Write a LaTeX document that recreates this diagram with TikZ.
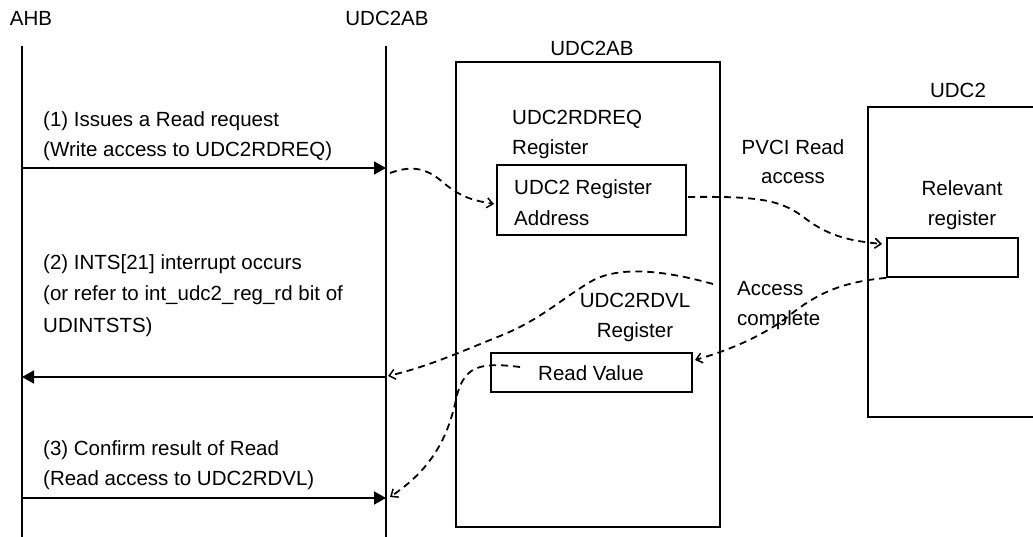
\documentclass[tikz,border=0pt]{standalone}
\usepackage{fontspec}
\setmainfont{Liberation Sans}
\usetikzlibrary{arrows.meta}
\begin{document}
\begin{tikzpicture}[x=1pt,y=-1pt,
  lbl/.style={font=\fontsize{20.5}{24}\selectfont, inner sep=0pt},
  lw/.style={lbl, anchor=base west},
  lc/.style={lbl, anchor=base},
  solidln/.style={line width=1.8pt},
  msg/.style={line width=1.8pt, -{Triangle[length=12pt,width=13pt]}},
  flow/.style={line width=1.8pt, dash pattern=on 7pt off 5pt, -{Straight Barb[length=6pt,width=10pt,line width=1.5pt]}},
  regbox/.style={draw, line width=1.8pt, inner sep=0pt}
]
\useasboundingbox (0,0) rectangle (1033,537);
% lifelines
\node[lc] (ahb) at (31,25.3) {AHB};
\node[lc] (abtop) at (387,25.3) {UDC2AB};
\coordinate (ahbtop) at (22,46); \coordinate (ahbbot) at (22,540);
\coordinate (abt) at (386,46); \coordinate (abb) at (386,540);
\draw[solidln] (ahbtop) -- (ahbbot);
\draw[solidln] (abt) -- (abb);
% UDC2AB box
\node[regbox, minimum width=264pt, minimum height=465pt] (abbox) at (588,294.5) {};
\node[lc] (ablbl) at (592,55.3) {UDC2AB};
\node[lw] (rq1) at (512,124.3) {UDC2RDREQ};
\node[lw] (rq2) at (512,154.3) {Register};
\node[regbox, minimum width=189pt, minimum height=70pt] (addr) at (591.5,200) {};
\node[lw] (ad1) at (514,194.3) {UDC2 Register};
\node[lw] (ad2) at (514,225.3) {Address};
\node[lc] (vl1) at (635,307.3) {UDC2RDVL};
\node[lc] (vl2) at (635,337.3) {Register};
\node[regbox, minimum width=201pt, minimum height=39pt] (rv) at (591.5,372.5) {};
\node[lc] (rvt) at (591,380.3) {Read Value};
% UDC2 box
\node[lc] (u2lbl) at (958,97.3) {UDC2};
\coordinate (u2a) at (1040,107); \coordinate (u2b) at (868,107);
\coordinate (u2c) at (868,417); \coordinate (u2d) at (1040,417);
\draw[solidln] (u2a) -- (u2b) -- (u2c) -- (u2d);
\node[lc] (re1) at (962,195.3) {Relevant};
\node[lc] (re2) at (962,225.3) {register};
\node[regbox, minimum width=131pt, minimum height=39pt] (rel) at (952.5,257.5) {};
% middle labels
\node[lc] (pv1) at (793,154.3) {PVCI Read};
\node[lc] (pv2) at (793,183.3) {access};
\node[lw] (ac1) at (737,295.3) {Access};
\node[lw] (ac2) at (737,325.3) {complete};
% left texts
\node[lw] (t11) at (43,126.3) {(1) Issues a Read request};
\node[lw] (t12) at (43,156.3) {(Write access to UDC2RDREQ)};
\node[lw] (t21) at (43,269.3) {(2) INTS[21] interrupt occurs};
\node[lw] (t22) at (43,300.3) {(or refer to int\_udc2\_reg\_rd bit of};
\node[lw] (t23) at (43,332.3) {UDINTSTS)};
\node[lw] (t31) at (43,455.3) {(3) Confirm result of Read};
\node[lw] (t32) at (43,485.3) {(Read access to UDC2RDVL)};
% messages
\coordinate (m1s) at (22,168); \coordinate (m1e) at (386,168);
\coordinate (m2s) at (386,377); \coordinate (m2e) at (22,377);
\coordinate (m3s) at (22,498); \coordinate (m3e) at (386,498);
\draw[msg] (m1s) -- (m1e);
\draw[msg] (m2s) -- (m2e);
\draw[msg] (m3s) -- (m3e);
% dashed flows
\coordinate (f1s) at (390,173); \coordinate (f1e) at (494,204);
\draw[flow] (f1s) .. controls (410,166) and (425,166) .. (445,184) .. controls (462,198) and (476,201) .. (f1e);
\coordinate (f2s) at (688,197); \coordinate (f2e) at (882,244);
\draw[flow] (f2s) .. controls (760,196) and (782,200) .. (806,219) .. controls (830,237) and (852,241) .. (f2e);
\coordinate (f3e) at (695,360);
\draw[flow] (rel.south west) .. controls (840,282) and (815,295) .. (790,315) .. controls (765,335) and (730,350) .. (f3e);
\coordinate (f4s) at (713,284); \coordinate (f4e) at (388,376);
\draw[flow] (f4s) .. controls (670,272) and (620,264) .. (590,282) .. controls (560,300) and (540,320) .. (500,336) .. controls (460,352) and (430,366) .. (f4e);
\coordinate (f5s) at (520,367); \coordinate (f5e) at (390,497);
\draw[flow] (f5s) .. controls (480,362) and (465,366) .. (457,395) .. controls (448,440) and (430,470) .. (f5e);
\end{tikzpicture}
\end{document}
